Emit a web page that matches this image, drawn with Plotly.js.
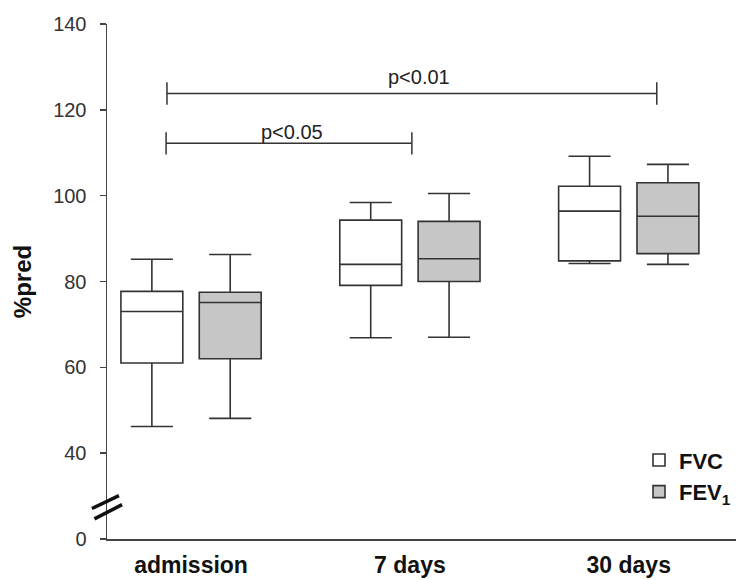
<!DOCTYPE html>
<html>
<head>
<meta charset="utf-8">
<script src="https://cdn.plot.ly/plotly-3.0.1.min.js"></script>
<style>html,body{margin:0;padding:0;background:#fff;}#chart{width:736px;height:580px;}</style>
</head>
<body>
<div id="chart"></div>
<script>
// ---- data ----
const categories = ["admission", "7 days", "30 days"];

const fvcLow    = [46.2, 66.9, 84.2];
const fvcQ1     = [61.0, 79.1, 84.8];
const fvcMedian = [73.0, 84.0, 96.4];
const fvcQ3     = [77.7, 94.3, 102.2];
const fvcHigh   = [85.2, 98.4, 109.2];

const fevLow    = [48.1, 67.0, 84.0];
const fevQ1     = [62.0, 80.0, 86.5];
const fevMedian = [75.1, 85.3, 95.2];
const fevQ3     = [77.5, 94.0, 103.0];
const fevHigh   = [86.3, 100.5, 107.3];

const seriesNames = ["FVC", "FEV<sub>1</sub>"];

const yTickVals  = [20, 40, 60, 80, 100, 120, 140];
const yTickText  = ["0", "40", "60", "80", "100", "120", "140"];

// significance brackets (category-index units on x, %pred on y)
const bracketLabels = ["p<0.05", "p<0.01"];
const bracketFrom   = [-0.114, -0.11];
const bracketTo     = [1.009, 2.128];
const bracketY      = [112.2, 123.8];
const bracketLabelX = [0.459, 1.04];
const bracketLabelY = [114.9, 127.7];

// ---- styles ----
const lineCol = "#333333";
const font = "Liberation Sans, Arial, Helvetica, sans-serif";

const traces = [
  {
    type: "box", name: seriesNames[0], x: categories,
    lowerfence: fvcLow, q1: fvcQ1, median: fvcMedian, q3: fvcQ3, upperfence: fvcHigh,
    fillcolor: "#ffffff", line: {color: lineCol, width: 1.6},
    whiskerwidth: 0.68, boxpoints: false, hoverinfo: "skip"
  },
  {
    type: "box", name: seriesNames[1], x: categories,
    lowerfence: fevLow, q1: fevQ1, median: fevMedian, q3: fevQ3, upperfence: fevHigh,
    fillcolor: "#c6c6c6", line: {color: lineCol, width: 1.6},
    whiskerwidth: 0.68, boxpoints: false, hoverinfo: "skip"
  }
];

const shapes = [];
const annotations = [];
for (let i = 0; i < bracketLabels.length; i++) {
  shapes.push({type: "line", xref: "x", yref: "y", x0: bracketFrom[i], x1: bracketTo[i], y0: bracketY[i], y1: bracketY[i], line: {color: lineCol, width: 1.5}});
  shapes.push({type: "line", xref: "x", yref: "y", x0: bracketFrom[i], x1: bracketFrom[i], y0: bracketY[i] - 2.6, y1: bracketY[i] + 2.6, line: {color: lineCol, width: 1.5}});
  shapes.push({type: "line", xref: "x", yref: "y", x0: bracketTo[i], x1: bracketTo[i], y0: bracketY[i] - 2.6, y1: bracketY[i] + 2.6, line: {color: lineCol, width: 1.5}});
  annotations.push({xref: "x", yref: "y", x: bracketLabelX[i], y: bracketLabelY[i], text: bracketLabels[i], showarrow: false, xanchor: "center", yanchor: "middle", font: {family: font, size: 20, color: "#222"}});
}
// axis break marks
shapes.push({type: "line", xref: "paper", yref: "y", x0: -0.024, x1: 0.019, y0: 27.1, y1: 30.1, line: {color: "#111", width: 3.5}});
shapes.push({type: "line", xref: "paper", yref: "y", x0: -0.020, x1: 0.024, y0: 24.7, y1: 28.0, line: {color: "#111", width: 3.5}});

const layout = {
  width: 736, height: 580,
  margin: {l: 107, r: 0, t: 24, b: 41},
  paper_bgcolor: "#ffffff", plot_bgcolor: "#ffffff",
  font: {family: font, color: "#222"},
  boxmode: "group", boxgap: 0.284, boxgroupgap: 0.21,
  xaxis: {
    type: "category", range: [-0.384, 2.49],
    showline: true, linecolor: "#444", linewidth: 1.5,
    ticks: "", showgrid: false, zeroline: false,
    tickfont: {family: font, size: 23, weight: "bold", color: "#111"},
    ticklabelstandoff: 5
  },
  yaxis: {
    range: [20, 140], tickmode: "array", tickvals: yTickVals, ticktext: yTickText,
    showline: true, linecolor: "#444", linewidth: 1.5,
    ticks: "outside", ticklen: 6, tickwidth: 1.5, tickcolor: "#444",
    showgrid: false, zeroline: false,
    tickfont: {family: font, size: 20, color: "#333"},
    ticklabelstandoff: 9,
    title: {text: "%pred", font: {family: font, size: 24, weight: "bold", color: "#111"}, standoff: 14}
  },
  showlegend: true,
  legend: {
    x: 1.0, xanchor: "right", y: 0.05, yanchor: "bottom",
    bgcolor: "rgba(0,0,0,0)", font: {family: font, size: 22, weight: "bold", color: "#111"},
    itemclick: false
  },
  shapes: shapes,
  annotations: annotations
};

Plotly.newPlot("chart", traces, layout, {displayModeBar: false, staticPlot: true});
</script>
</body>
</html>
